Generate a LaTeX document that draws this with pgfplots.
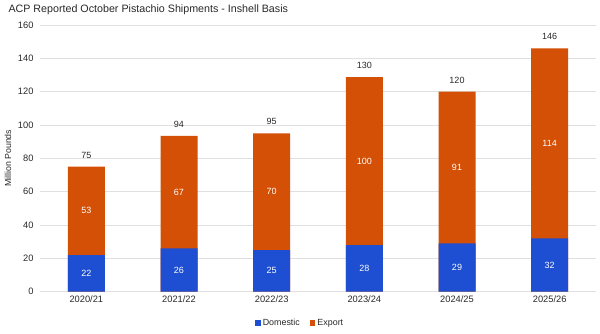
\documentclass[border=0pt]{standalone}
\usepackage{fontspec}
\setmainfont{Liberation Sans}
\usepackage{pgfplots}
\usepackage{pgfplotstable}
\pgfplotsset{compat=1.18}
\definecolor{domblue}{RGB}{30,78,210}
\definecolor{exporange}{RGB}{212,80,6}
\definecolor{txt}{RGB}{40,40,40}
\pgfplotstableread{
x dom exp top tot
0 22 53 75 75
1 26 67 93.5 94
2 25 70 95 95
3 28 100 128.7 130
4 29 91 120 120
5 32 114 146 146
}\shipdata
\begin{document}
\begin{tikzpicture}
\useasboundingbox (-40pt,-41.3pt) rectangle (560pt,291.7pt);
\begin{axis}[
  at={(0,0)}, anchor=south west,
  scale only axis, width=556pt, height=266.7pt,
  xmin=-0.5, xmax=5.5, ymin=0, ymax=160,
  xtick={0,1,2,3,4,5},
  xticklabels={2020/21,2021/22,2022/23,2023/24,2024/25,2025/26},
  ytick={0,20,...,160},
  ymajorgrids, grid style={draw=black!12, line width=0.6pt},
  axis line style={draw=none}, tick style={draw=none},
  /pgf/number format/assume math mode=true,
  tick label style={font=\fontsize{9.3}{11}\selectfont, text=txt},
  xticklabel style={yshift=-1pt},
  yticklabel style={xshift=-3pt},
  ylabel={Million Pounds},
  ylabel style={at={(rel axis cs:0,0.5)}, anchor=center, yshift=32pt, font=\fontsize{8.8}{10}\selectfont, text=txt},
  title={ACP Reported October Pistachio Shipments - Inshell Basis},
  title style={at={(rel axis cs:0,1)}, anchor=west, xshift=-35pt, yshift=9pt, font=\fontsize{10.7}{12}\selectfont, text=txt},
  legend style={at={(rel axis cs:0.468,0)}, anchor=center, yshift=-31.3pt, draw=none, fill=none, font=\fontsize{8.9}{10}\selectfont, text=txt, legend columns=2, /tikz/every even column/.append style={column sep=8pt}},
  legend image code/.code={\fill[#1] (0pt,-2.8pt) rectangle (5.6pt,2.8pt);},
]
\addplot[ybar, bar width=37pt, bar shift=0pt, fill=exporange, draw=none, forget plot,
  nodes near coords, point meta=\thisrow{tot},
  every node near coord/.append style={anchor=south, text=txt, font=\fontsize{9}{10}\selectfont, yshift=5pt}]
  table[x=x, y=top] {\shipdata};
\addplot[ybar, bar width=37pt, bar shift=0pt, fill=domblue, draw=none]
  table[x=x, y=dom] {\shipdata};
\addlegendentry{Domestic}
\addlegendimage{ybar, fill=exporange, draw=none}
\addlegendentry{Export}
\addplot[only marks, mark=*, mark size=0.01pt, mark options={draw=none, fill=none}, forget plot,
  nodes near coords, point meta=\thisrow{dom},
  every node near coord/.append style={anchor=center, text=white, font=\fontsize{9}{10}\selectfont}]
  table[x=x, y expr=\thisrow{dom}/2] {\shipdata};
\addplot[only marks, mark=*, mark size=0.01pt, mark options={draw=none, fill=none}, forget plot,
  nodes near coords, point meta=\thisrow{exp},
  every node near coord/.append style={anchor=center, text=white, font=\fontsize{9}{10}\selectfont}]
  table[x=x, y expr=(\thisrow{dom}+\thisrow{top})/2] {\shipdata};
\end{axis}
\end{tikzpicture}
\end{document}
